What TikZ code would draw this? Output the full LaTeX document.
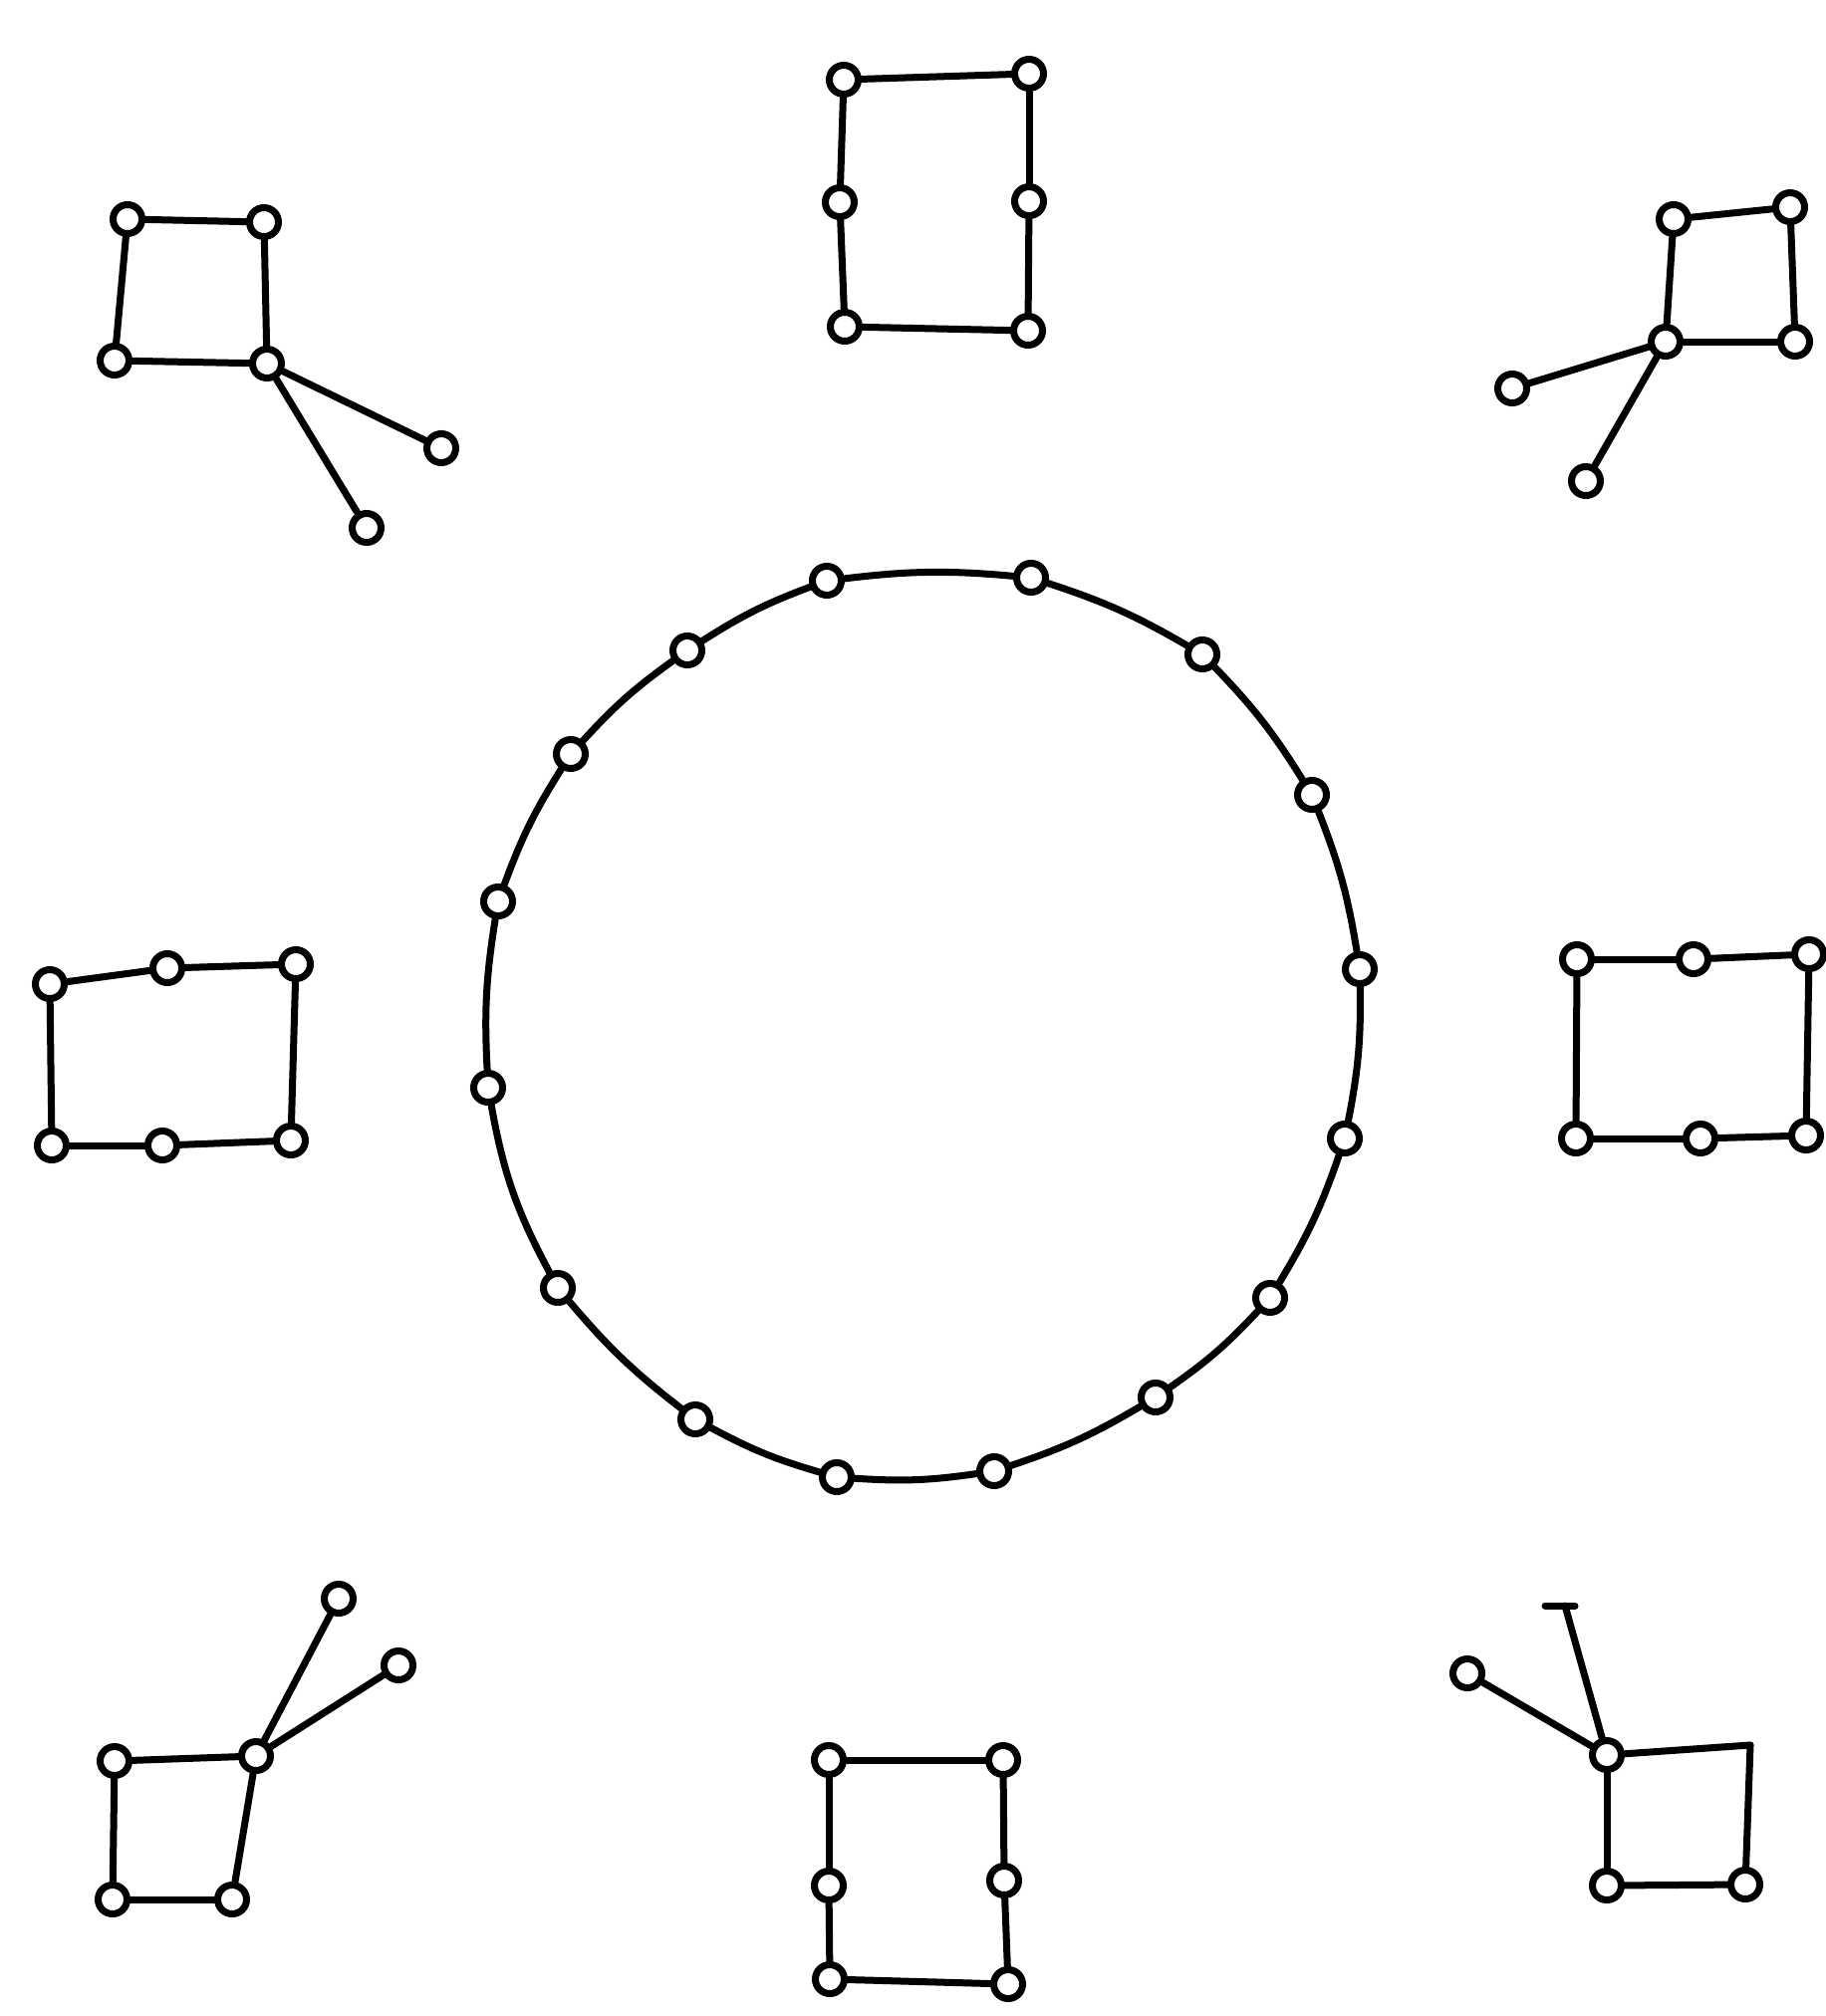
\documentclass[tikz,border=0pt]{standalone}
\begin{document}
\begin{tikzpicture}[x=1pt,y=-1pt,
  v/.style={circle,draw,fill=white,line width=7pt,minimum size=29pt,inner sep=0pt},
  e/.style={line width=7pt,line cap=round},
  rb/.style={bend left=6}]
\useasboundingbox (0,0) rectangle (1832,2024);
% top-left
\node[v] (a1) at (128,220) {};
\node[v] (a2) at (265,223) {};
\node[v] (a3) at (115,362) {};
\node[v] (a4) at (268,365) {};
\node[v] (a5) at (443,450) {};
\node[v] (a6) at (368,530) {};
\draw[e] (a1) -- (a2); \draw[e] (a1) -- (a3); \draw[e] (a2) -- (a4);
\draw[e] (a3) -- (a4); \draw[e] (a4) -- (a5); \draw[e] (a4) -- (a6);
% top-middle
\node[v] (b1) at (847,80) {};
\node[v] (b2) at (1033,74) {};
\node[v] (b3) at (843,203) {};
\node[v] (b4) at (1033,202) {};
\node[v] (b5) at (848,328) {};
\node[v] (b6) at (1032,332) {};
\draw[e] (b1) -- (b2); \draw[e] (b1) -- (b3); \draw[e] (b3) -- (b5);
\draw[e] (b2) -- (b4); \draw[e] (b4) -- (b6); \draw[e] (b5) -- (b6);
% top-right
\node[v] (c1) at (1680,220) {};
\node[v] (c2) at (1797,208) {};
\node[v] (c3) at (1672,343) {};
\node[v] (c4) at (1802,343) {};
\node[v] (c5) at (1518,390) {};
\node[v] (c6) at (1592,483) {};
\draw[e] (c1) -- (c2); \draw[e] (c1) -- (c3); \draw[e] (c2) -- (c4);
\draw[e] (c3) -- (c4); \draw[e] (c3) -- (c5); \draw[e] (c3) -- (c6);
% left
\node[v] (d1) at (50,988) {};
\node[v] (d2) at (168,972) {};
\node[v] (d3) at (297,968) {};
\node[v] (d4) at (52,1150) {};
\node[v] (d5) at (163,1150) {};
\node[v] (d6) at (292,1145) {};
\draw[e] (d1) -- (d2); \draw[e] (d2) -- (d3); \draw[e] (d1) -- (d4);
\draw[e] (d3) -- (d6); \draw[e] (d4) -- (d5); \draw[e] (d5) -- (d6);
% right
\node[v] (e1) at (1583,963) {};
\node[v] (e2) at (1700,963) {};
\node[v] (e3) at (1816,958) {};
\node[v] (e4) at (1582,1143) {};
\node[v] (e5) at (1707,1143) {};
\node[v] (e6) at (1813,1140) {};
\draw[e] (e1) -- (e2); \draw[e] (e2) -- (e3); \draw[e] (e1) -- (e4);
\draw[e] (e3) -- (e6); \draw[e] (e4) -- (e5); \draw[e] (e5) -- (e6);
% bottom-left
\node[v] (f1) at (115,1768) {};
\node[v] (f2) at (257,1763) {};
\node[v] (f3) at (113,1907) {};
\node[v] (f4) at (233,1907) {};
\node[v] (f5) at (340,1605) {};
\node[v] (f6) at (400,1672) {};
\draw[e] (f1) -- (f2); \draw[e] (f1) -- (f3); \draw[e] (f2) -- (f4);
\draw[e] (f3) -- (f4); \draw[e] (f2) -- (f5); \draw[e] (f2) -- (f6);
% bottom-middle
\node[v] (g1) at (832,1767) {};
\node[v] (g2) at (1007,1767) {};
\node[v] (g3) at (832,1893) {};
\node[v] (g4) at (1008,1888) {};
\node[v] (g5) at (833,1987) {};
\node[v] (g6) at (1012,1992) {};
\draw[e] (g1) -- (g2); \draw[e] (g1) -- (g3); \draw[e] (g3) -- (g5);
\draw[e] (g2) -- (g4); \draw[e] (g4) -- (g6); \draw[e] (g5) -- (g6);
% bottom-right
\node[v] (h1) at (1613,1762) {};
\coordinate (h2) at (1757,1752);
\node[v] (h3) at (1613,1893) {};
\node[v] (h4) at (1752,1892) {};
\node[v] (h5) at (1473,1680) {};
\coordinate (h6) at (1571,1612);
\draw[e] (h1) -- (h2); \draw[e] (h1) -- (h3); \draw[e] (h2) -- (h4);
\draw[e] (h3) -- (h4); \draw[e] (h1) -- (h5); \draw[e] (h1) -- (h6);
\draw[e] (h6) ++(-20,0) -- ++(30,0);
% ring
\node[v] (r1) at (830,583) {};
\node[v] (r2) at (690,653) {};
\node[v] (r3) at (573,757) {};
\node[v] (r4) at (500,905) {};
\node[v] (r5) at (1035,580) {};
\node[v] (r6) at (1207,657) {};
\node[v] (r7) at (1317,798) {};
\node[v] (r8) at (1365,973) {};
\node[v] (r9) at (490,1092) {};
\node[v] (r10) at (560,1293) {};
\node[v] (r11) at (698,1425) {};
\node[v] (r12) at (840,1483) {};
\node[v] (r13) at (1350,1143) {};
\node[v] (r14) at (1275,1303) {};
\node[v] (r15) at (1160,1403) {};
\node[v] (r16) at (998,1477) {};
\draw[e] (r1) to[rb] (r5);
\draw[e] (r5) to[rb] (r6);
\draw[e] (r6) to[rb] (r7);
\draw[e] (r7) to[rb] (r8);
\draw[e] (r8) to[rb] (r13);
\draw[e] (r13) to[rb] (r14);
\draw[e] (r14) to[rb] (r15);
\draw[e] (r15) to[rb] (r16);
\draw[e] (r16) to[rb] (r12);
\draw[e] (r12) to[rb] (r11);
\draw[e] (r11) to[rb] (r10);
\draw[e] (r10) to[bend left=9] (r9);
\draw[e] (r9) to[rb] (r4);
\draw[e] (r4) to[rb] (r3);
\draw[e] (r3) to[rb] (r2);
\draw[e] (r2) to[rb] (r1);
\end{tikzpicture}
\end{document}
